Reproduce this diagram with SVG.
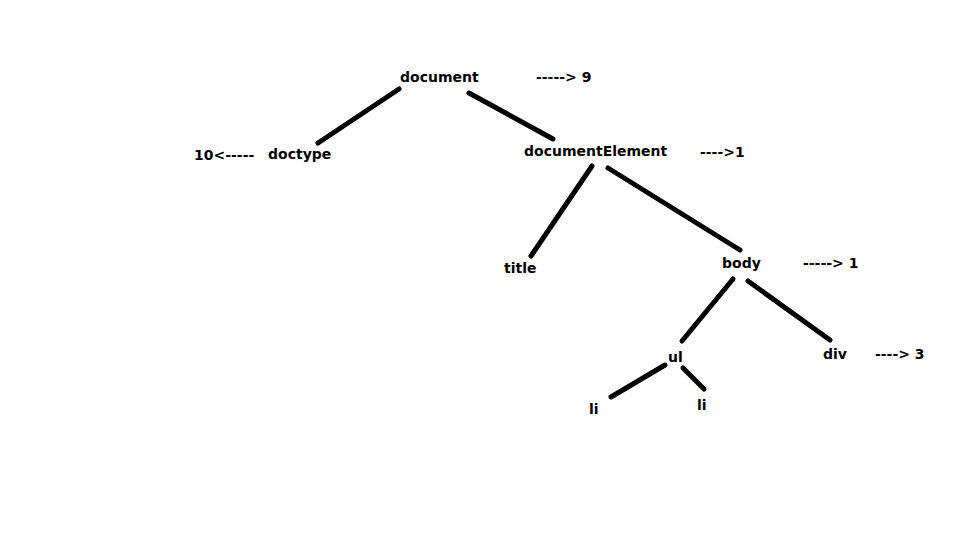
<svg xmlns="http://www.w3.org/2000/svg" width="960" height="540" viewBox="0 0 960 540">
  <style>
    .lbl { font-family: "DejaVu Sans", "Liberation Sans", sans-serif; font-weight: bold; font-size: 14px; fill: #000; }
    .edge { stroke: #000; stroke-width: 5; stroke-linecap: round; fill: none; }
  </style>
  <rect width="960" height="540" fill="#fff"/>
  <g id="connectors">
    <line class="edge" x1="399" y1="89" x2="318" y2="143"/>
    <line class="edge" x1="469" y1="93" x2="553" y2="139"/>
    <line class="edge" x1="592" y1="166" x2="531" y2="256"/>
    <line class="edge" x1="608" y1="168" x2="740" y2="250"/>
    <line class="edge" x1="733" y1="279" x2="682" y2="341"/>
    <line class="edge" x1="748" y1="281" x2="830" y2="340"/>
    <line class="edge" x1="665" y1="365" x2="611" y2="397"/>
    <line class="edge" x1="683" y1="368" x2="704" y2="389"/>
  </g>
  <g id="document"><text class="lbl" x="400" y="82">document</text></g>
  <g id="document-count"><text class="lbl" x="536" y="82">-----&gt; 9</text></g>
  <g id="doctype"><text class="lbl" x="268" y="159">doctype</text></g>
  <g id="doctype-count"><text class="lbl" x="194" y="160">10&lt;-----</text></g>
  <g id="documentElement"><text class="lbl" x="524" y="156">documentElement</text></g>
  <g id="documentElement-count"><text class="lbl" x="700" y="157">----&gt;1</text></g>
  <g id="title"><text class="lbl" x="504" y="273">title</text></g>
  <g id="body"><text class="lbl" x="722" y="268">body</text></g>
  <g id="body-count"><text class="lbl" x="803" y="268">-----&gt; 1</text></g>
  <g id="ul"><text class="lbl" x="668" y="362">ul</text></g>
  <g id="div"><text class="lbl" x="823" y="359">div</text></g>
  <g id="div-count"><text class="lbl" x="875" y="359">----&gt; 3</text></g>
  <g id="li-1"><text class="lbl" x="589" y="414">li</text></g>
  <g id="li-2"><text class="lbl" x="697" y="410">li</text></g>
</svg>
